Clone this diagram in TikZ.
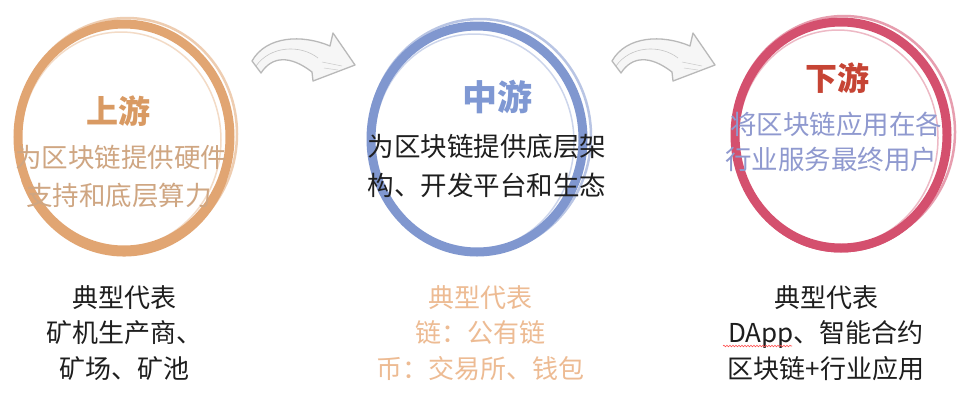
\documentclass[tikz,border=0pt]{standalone}
\usepackage{fontspec}
\newfontfamily\cjk{Noto Sans CJK SC}
\usetikzlibrary{shapes.geometric,decorations.pathmorphing}
\definecolor{ringO}{HTML}{E1A572}
\definecolor{ringB}{HTML}{8097CF}
\definecolor{ringR}{HTML}{D4506E}
\definecolor{titO}{HTML}{D99A63}
\definecolor{txtO}{HTML}{CFA682}
\definecolor{titB}{HTML}{7F98D3}
\definecolor{titR}{HTML}{C64434}
\definecolor{txtL}{HTML}{8F99CF}
\definecolor{botO}{HTML}{EDBB93}
\definecolor{txtK}{HTML}{1E1E1E}
\begin{document}
\begin{tikzpicture}[x=1pt,y=-1pt,
  ring/.style={ellipse, draw, line width=9pt, minimum width=212pt, minimum height=226pt, inner sep=0pt},
  brush/.style={line width=2.5pt, opacity=.55},
  title/.style={font=\cjk\bfseries\fontsize{32}{36}\selectfont, inner sep=0pt},
  body/.style={font=\cjk\fontsize{26.5}{36}\selectfont, inner sep=0pt},
  bottom/.style={font=\cjk\fontsize{26}{35.5}\selectfont, align=center, inner sep=0pt, text=txtK},
  arrowshape/.style={fill=gray!7, draw=gray!55, line width=1.3pt, line join=round}]
\useasboundingbox[fill=white] (0,0) rectangle (960,400);

% arrows
\foreach \dx in {0,360}{
  \begin{scope}[xshift=\dx]
    \draw[arrowshape] (252,61) .. controls (266,36) and (302,34) .. (330,46)
      -- (333,33) -- (355,65) -- (313,81) -- (312,72)
      .. controls (290,55) and (272,56) .. (261,73) -- cycle;
    \draw[gray!45, line width=0.6pt] (256,66) .. controls (270,46) and (300,44) .. (318,58);
    \draw[gray!40, line width=0.5pt] (322,62) -- (342,66) (324,68) -- (338,70);
  \end{scope}
}

% rings
\node[ring, draw=ringO] (r1) at (124,137) {};
\draw[ringO, brush] (127,134) ellipse [x radius=110, y radius=116];
\draw[ringO, line width=1.5pt, opacity=.4] (121,140) ellipse [x radius=100, y radius=108];
\draw[ringO, line width=7pt] (124,141) ++(20:106 and 112) arc [start angle=20, end angle=160, x radius=106, y radius=112];

\node[ring, draw=ringB] (r2) at (477,139) {};
\draw[ringB, brush] (480,136) ellipse [x radius=111, y radius=117];
\draw[ringB, line width=1.5pt, opacity=.4] (474,142) ellipse [x radius=100, y radius=108];

\node[ring, draw=ringR] (r3) at (841,135) {};
\draw[ringR, brush] (844,132) ellipse [x radius=111, y radius=116];
\draw[ringR, line width=1.5pt, opacity=.4] (838,138) ellipse [x radius=100, y radius=108];
\draw[ringR, line width=5pt] (841,138) ++(30:106 and 112) arc [start angle=30, end angle=150, x radius=106, y radius=112];

% upstream texts
\node[title, text=titO] (t1) at (118,111) {上游};
\node[body, text=txtO] (a1) at (121,157) {为区块链提供硬件};
\node[body, text=txtO] (b1) at (119,195) {支持和底层算力};

% midstream texts
\node[title, text=titB, font=\cjk\bfseries\fontsize{35}{38}\selectfont] (t2) at (497,97) {中游};
\node[body, text=txtK] (a2) at (487,147) {为区块链提供底层架};
\node[body, text=txtK] (b2) at (487,185) {构、开发平台和生态};

% downstream texts
\node[title, text=titR] (t3) at (837,78) {下游};
\node[body, text=txtL] (a3) at (836,124) {将区块链应用在各};
\node[body, text=txtL] (b3) at (831,159) {行业服务最终用户};

% bottom texts
\node[bottom] (c1) at (124,333) {典型代表\\矿机生产商、\\矿场、矿池};
\node[bottom, text=botO] (c2) at (480,333) {典型代表\\链：公有链\\币：交易所、钱包};
\node[bottom] (c3) at (826,333) {典型代表\\DApp、智能合约\\区块链+行业应用};

\coordinate (w1) at (723,346);
\coordinate (w2) at (792,346);
\draw[red!70, line width=0.6pt, decorate, decoration={snake, amplitude=0.8pt, segment length=3pt}] (w1) -- (w2);
\end{tikzpicture}
\end{document}
